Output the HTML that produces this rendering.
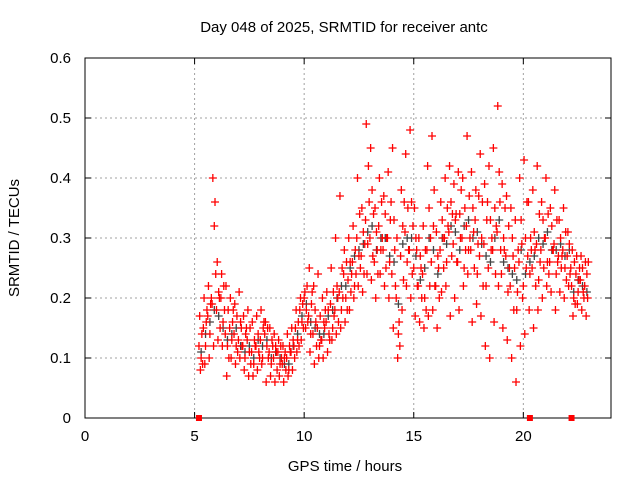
<!DOCTYPE html>
<html><head><meta charset="utf-8"><style>
html,body{margin:0;padding:0;background:#fff;}
svg{display:block;font-family:"Liberation Sans",sans-serif;}
</style></head><body>
<svg id="chart" width="640" height="480">
<text x="344" y="32" font-size="15" text-anchor="middle">Day 048 of 2025, SRMTID for receiver antc</text>
<text transform="translate(19,238) rotate(-90)" font-size="15" text-anchor="middle">SRMTID / TECUs</text>
<text x="345" y="471" font-size="15" text-anchor="middle">GPS time / hours</text>
<g id="grid"></g>
<g id="axes"></g>
<g id="gray"></g>
<g id="red"></g>
</svg>
<script>
const hours=[5.2,5.4,5.6,5.8,6.0,6.2,6.4,6.6,6.8,7.0,7.2,7.4,7.6,7.8,8.0,8.2,8.4,8.6,8.8,9.0,9.2,9.4,9.6,9.8,10.0,10.2,10.4,10.6,10.8,11.0,11.2,11.4,11.6,11.8,12.0,12.2,12.4,12.6,12.8,13.0,13.2,13.4,13.6,13.8,14.0,14.2,14.4,14.6,14.8,15.0,15.2,15.4,15.6,15.8,16.0,16.2,16.4,16.6,16.8,17.0,17.2,17.4,17.6,17.8,18.0,18.2,18.4,18.6,18.8,19.0,19.2,19.4,19.6,19.8,20.0,20.2,20.4,20.6,20.8,21.0,21.2,21.4,21.6,21.8,22.0,22.2,22.4,22.6,22.8];
const valsA=[.12,.15,.17,.19,.18,.20,.14,.15,.14,.13,.12,.13,.11,.12,.13,.14,.11,.10,.11,.09,.10,.11,.15,.18,.20,.17,.14,.15,.13,.16,.19,.18,.21,.24,.23,.26,.30,.27,.33,.30,.26,.32,.28,.30,.24,.20,.27,.31,.28,.25,.22,.24,.28,.26,.22,.28,.30,.31,.29,.26,.30,.32,.28,.33,.27,.29,.25,.28,.31,.24,.27,.22,.25,.26,.22,.27,.25,.29,.28,.30,.26,.29,.27,.28,.27,.22,.24,.23,.22];
const valsB=[.17,.20,.22,.40,.26,.24,.22,.20,.19,.21,.17,.18,.16,.17,.18,.16,.15,.14,.13,.12,.14,.15,.18,.20,.21,.25,.22,.24,.20,.21,.25,.30,.37,.28,.30,.32,.40,.35,.49,.45,.35,.40,.37,.41,.45,.30,.38,.44,.48,.35,.30,.32,.42,.47,.31,.36,.40,.42,.39,.41,.40,.47,.41,.38,.44,.39,.42,.45,.52,.39,.37,.35,.33,.40,.43,.36,.38,.42,.36,.40,.35,.38,.33,.35,.31,.28,.27,.27,.26];
const valsC=[.08,.09,.10,.12,.13,.12,.07,.10,.09,.10,.08,.07,.07,.08,.09,.06,.07,.06,.07,.06,.07,.08,.11,.13,.15,.11,.09,.10,.10,.11,.13,.14,.15,.16,.18,.20,.22,.21,.24,.23,.20,.24,.22,.20,.15,.10,.18,.22,.20,.17,.16,.15,.17,.18,.15,.21,.22,.17,.20,.18,.22,.24,.16,.19,.17,.12,.10,.16,.22,.15,.13,.10,.06,.12,.14,.18,.15,.18,.20,.22,.21,.18,.21,.20,.22,.17,.19,.18,.17];
const valsD=[.10,.12,.14,.32,.21,.16,.12,.13,.12,.16,.10,.11,.09,.14,.10,.12,.09,.12,.09,.10,.08,.13,.13,.16,.18,.14,.18,.12,.16,.18,.15,.22,.18,.20,.26,.22,.27,.31,.29,.38,.31,.28,.34,.26,.33,.14,.32,.26,.36,.30,.27,.20,.35,.32,.27,.33,.26,.36,.33,.34,.25,.28,.35,.24,.30,.22,.33,.35,.41,.30,.21,.30,.18,.33,.30,.24,.31,.23,.33,.26,.32,.24,.30,.25,.29,.20,.21,.25,.24];
const valsE=[.14,.16,.19,.36,.20,.22,.18,.16,.17,.15,.14,.15,.13,.11,.15,.15,.13,.11,.12,.11,.12,.12,.16,.19,.22,.19,.16,.17,.15,.14,.21,.20,.25,.26,.21,.28,.34,.24,.42,.27,.28,.36,.25,.33,.28,.16,.23,.35,.24,.28,.25,.28,.22,.38,.25,.30,.35,.27,.34,.30,.35,.37,.31,.29,.36,.33,.28,.24,.36,.28,.32,.27,.21,.29,.25,.30,.28,.34,.25,.34,.28,.33,.25,.31,.24,.26,.23,.21,.20];
const valsF=[.09,.18,.20,.24,.15,.18,.10,.18,.11,.12,.15,.09,.12,.10,.16,.10,.12,.08,.10,.08,.11,.10,.12,.15,.16,.21,.12,.13,.18,.13,.17,.16,.20,.18,.24,.24,.25,.29,.36,.34,.24,.30,.30,.36,.22,.12,.36,.28,.32,.22,.20,.18,.30,.22,.20,.25,.32,.34,.26,.38,.28,.30,.25,.37,.22,.36,.30,.32,.28,.35,.25,.18,.28,.20,.36,.28,.22,.26,.30,.24,.28,.26,.27,.23,.25,.19,.25,.20,.26];
const grayVals=[.11,.14,.16,.18,.17,.15,.13,.14,.15,.12,.11,.12,.10,.13,.12,.13,.10,.11,.10,.09,.09,.12,.14,.17,.19,.16,.15,.14,.14,.17,.18,.20,.22,.22,.25,.27,.28,.29,.31,.32,.28,.30,.30,.27,.26,.19,.29,.30,.30,.27,.23,.25,.30,.28,.24,.30,.29,.32,.31,.28,.32,.33,.30,.31,.29,.27,.26,.30,.33,.26,.25,.24,.23,.28,.24,.26,.27,.30,.29,.31,.28,.28,.29,.27,.28,.21,.23,.22,.21];
const zeroHours=[5.2,20.3,22.2];
const xTicks=[0,5,10,15,20];
const yTicks=[0,0.1,0.2,0.3,0.4,0.5,0.6];

const L=85,R=611,T=58,B=418;
const xs=h=>L+(h/24)*(R-L);
const ys=v=>B-(v/0.6)*(B-T);
const NS='http://www.w3.org/2000/svg';
function mk(tag,attrs,parent){const e=document.createElementNS(NS,tag);for(const k in attrs)e.setAttribute(k,attrs[k]);parent.appendChild(e);return e;}
const grid=document.getElementById('grid'),axes=document.getElementById('axes');
xTicks.forEach(t=>{
  const x=xs(t);
  if(t>0){const g=mk('line',{x1:x,x2:x,y1:T,y2:B,stroke:'#a0a0a0','stroke-dasharray':'2,3'},grid);
  
  }
  mk('line',{x1:x,x2:x,y1:B,y2:B-6,stroke:'#000'},axes);
  mk('line',{x1:x,x2:x,y1:T,y2:T+6,stroke:'#000'},axes);
  const tx=mk('text',{x:x,y:B+23,'font-size':15,'text-anchor':'middle'},axes);tx.textContent=t;
  
  
});
yTicks.forEach(t=>{
  const y=ys(t);
  if(t>0&&t<0.6){const g=mk('line',{x1:L,x2:R,y1:y,y2:y,stroke:'#a0a0a0','stroke-dasharray':'2,3'},grid);
  
  }
  mk('line',{x1:L,x2:L+6,y1:y,y2:y,stroke:'#000'},axes);
  mk('line',{x1:R,x2:R-6,y1:y,y2:y,stroke:'#000'},axes);
  const tx=mk('text',{x:L-14,y:y+5,'font-size':15,'text-anchor':'end'},axes);tx.textContent=(t===0?'0':t.toFixed(1));
  
  
});
mk('rect',{x:L,y:T,width:R-L,height:B-T,fill:'none',stroke:'#000'},axes);
function plus(g,h,v,color){
  const x=xs(h),y=ys(v);
  const p=mk('path',{d:`M${x-4},${y}H${x+4}M${x},${y-4}V${y+4}`,stroke:color,'stroke-width':1.3,fill:'none'},g);
  
  
}
const gray=document.getElementById('gray'),red=document.getElementById('red');
hours.forEach((h,i)=>plus(gray,h+0.1,grayVals[i],'#444'));
[valsA,valsB,valsC,valsD,valsE,valsF].forEach((arr,k)=>hours.forEach((h,i)=>plus(red,h+k*0.033,arr[i],'#ff0000')));
zeroHours.forEach(h=>{
  const r=mk('rect',{x:xs(h)-3,y:ys(0)-3,width:6,height:6,fill:'#ff0000'},red);
  
  
});
</script>
</body></html>
